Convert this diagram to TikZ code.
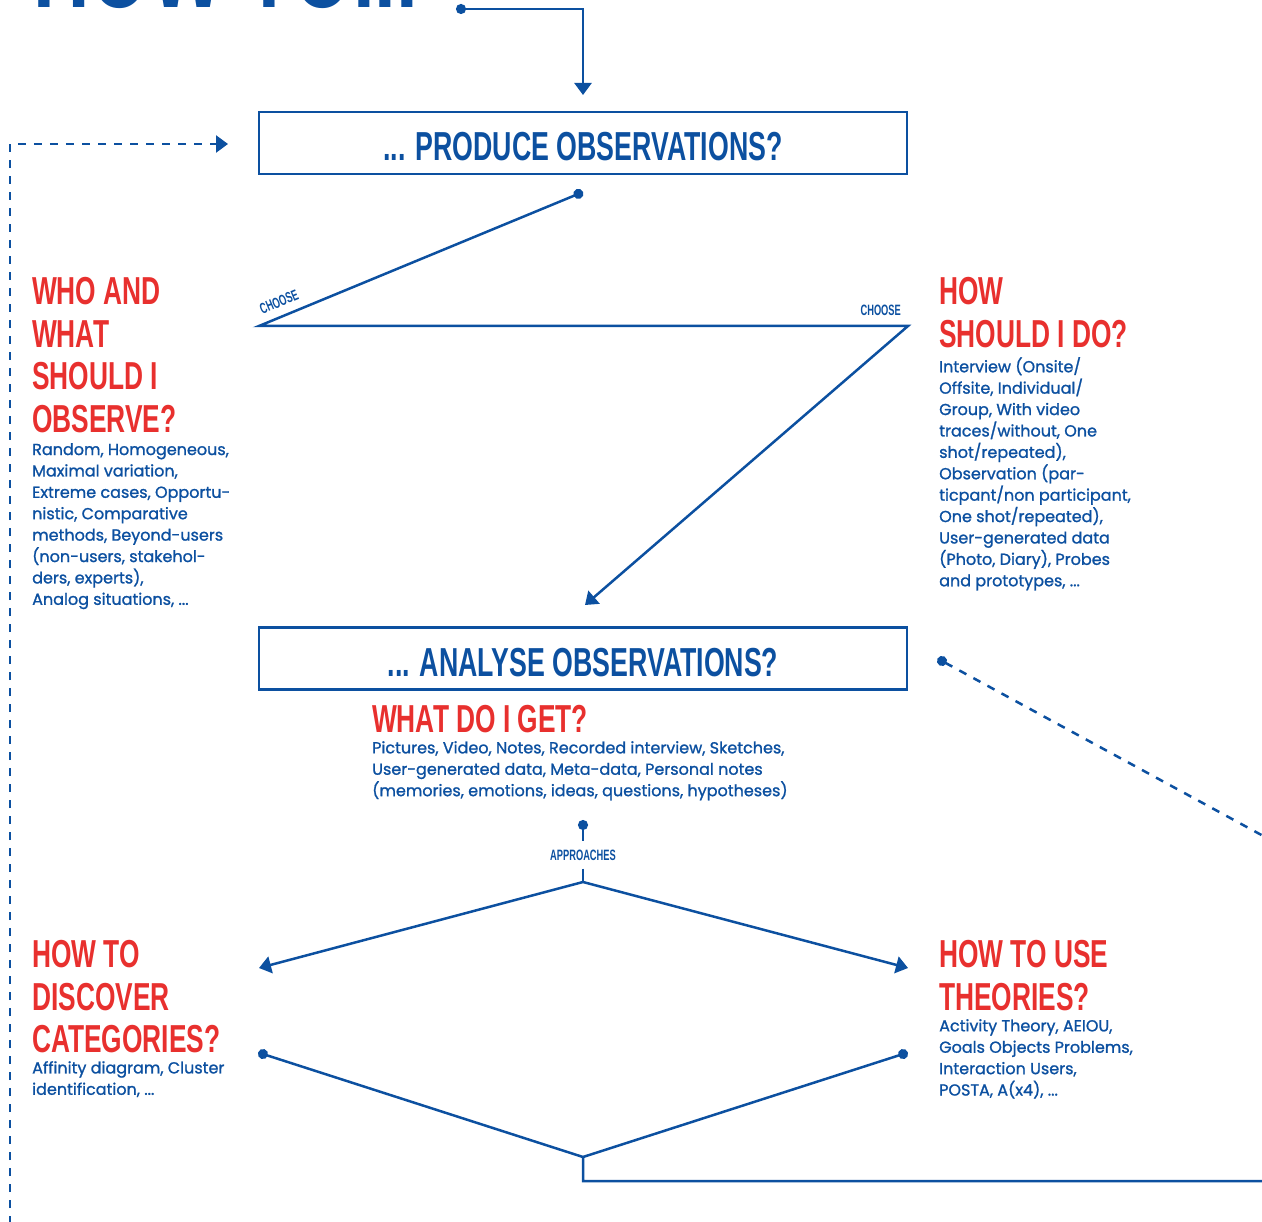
\documentclass[tikz,border=0pt]{standalone}
\usepackage{fontspec}
\setmainfont{Poppins}[FakeBold=1.2]
\newfontfamily\headfont{Liberation Sans}
\usepackage{xcolor}
\usepackage{tikz}
\usetikzlibrary{arrows.meta, positioning}

\definecolor{obsblue}{RGB}{12,80,160}
\definecolor{obsred}{RGB}{232,48,46}

\tikzset{
  >={Triangle[width=17pt,length=12pt]},
  conn/.style={draw=obsblue, line width=2.5pt},
  dashconn/.style={conn, dash pattern=on 8pt off 8pt},
  obsbox/.style={draw=obsblue, line width=2.5pt, minimum width=648pt, minimum height=62pt, inner sep=0pt, text height=35pt, text depth=0pt, text=obsblue, font=\headfont\bfseries\fontsize{40.5}{40.5}\selectfont},
  redhead/.style={anchor=north west, inner sep=0pt, align=left, text=obsred, xscale=0.675, font=\headfont\bfseries\fontsize{39}{42.7}\selectfont},
  bodytext/.style={anchor=north west, inner sep=0pt, align=left, text=obsblue, font=\fontsize{16}{21.4}\selectfont},
  smalllab/.style={inner sep=0pt, text=obsblue, xscale=0.62, font=\headfont\bfseries\fontsize{15}{15}\selectfont}
}

\begin{document}
\begin{tikzpicture}[x=1pt, y=-1pt]
          \useasboundingbox (0,0) rectangle (1262,1222);
          \clip (0,0) rectangle (1262,1222);

          \node[anchor=base west, inner sep=0pt, text=obsblue, xscale=0.68, font=\headfont\bfseries\fontsize{115}{115}\selectfont] (title) at (33,8) {HOW TO...};

          \node[obsbox] (produceBox) at (583,143) {\scalebox{0.66}[1]{... PRODUCE OBSERVATIONS?}};
          \node[obsbox] (analyseBox) at (583,658.5) {\scalebox{0.66}[1]{... ANALYSE OBSERVATIONS?}};

          \node[redhead] (whoHead) at (32,277) {WHO AND\\WHAT\\SHOULD I\\OBSERVE?};
          \node[bodytext] (whoBody) at (32,443) {Random, Homogeneous,\\Maximal variation,\\Extreme cases, Opportu-\\nistic, Comparative\\methods, Beyond-users\\(non-users, stakehol-\\ders, experts),\\Analog situations, ...};

          \node[redhead] (howHead) at (939,277) {HOW\\SHOULD I DO?};
          \node[bodytext] (howBody) at (939,357) {Interview (Onsite/\\Offsite, Individual/\\Group, With video\\traces/without, One\\shot/repeated),\\Observation (par-\\ticpant/non participant,\\One shot/repeated),\\User-generated data\\(Photo, Diary), Probes\\and prototypes, ...};

          \node[redhead] (getHead) at (372,705) {WHAT DO I GET?};
          \node[bodytext] (getBody) at (372,741) {Pictures, Video, Notes, Recorded interview, Sketches,\\User-generated data, Meta-data, Personal notes\\(memories, emotions, ideas, questions, hypotheses)};

          \node[redhead] (discHead) at (32,940) {HOW TO\\DISCOVER\\CATEGORIES?};
          \node[bodytext] (discBody) at (32,1061) {Affinity diagram, Cluster\\identification, ...};

          \node[redhead] (theoHead) at (939,940) {HOW TO USE\\THEORIES?};
          \node[bodytext] (theoBody) at (939,1019) {Activity Theory, AEIOU,\\Goals Objects Problems,\\Interaction Users,\\POSTA, A(x4), ...};

          \node[rotate=22.5, smalllab] (chooseLeft) at (279,302) {CHOOSE};
          \node[smalllab, anchor=base east] (chooseRight) at (901,316) {CHOOSE};
          \node[smalllab, inner ysep=8pt] (approaches) at (583,855) {APPROACHES};

          \coordinate (titleDot) at (456,9);
          \coordinate (produceIn) at (583,95);
          \coordinate (loopStart) at (10,1240);
          \coordinate (loopEnd) at (228,144);
          \coordinate (chooseDot) at (583,192);
          \coordinate (leftCorner) at (259,326);
          \coordinate (rightCorner) at (908,326);
          \coordinate (analyseIn) at (585,605);
          \coordinate (analyseDot) at (937.6,658.6);
          \coordinate (analyseOut) at (1300,856);
          \coordinate (apprDot) at (583,820);
          \coordinate (apprFork) at (583,882);
          \coordinate (discIn) at (259,968);
          \coordinate (theoIn) at (908,968);
          \coordinate (discDot) at (258.2,1052.5);
          \coordinate (theoDot) at (907.8,1052.5);
          \coordinate (merge) at (583,1157);
          \coordinate (mergeOut) at (1300,1181);

          \draw[conn, {Circle[length=10pt]}->] (titleDot) -| (produceIn);
          \draw[dashconn, ->] (loopStart) |- (loopEnd);
          \draw[conn, {Circle[length=10pt]}->] (chooseDot) -- (leftCorner) -- (rightCorner) -- (analyseIn);
          \draw[dashconn, {Circle[length=10pt]}-] (analyseDot) -- (analyseOut);
          \draw[conn, {Circle[length=10pt]}-] (apprDot) -- (approaches.north);
          \draw[conn] (approaches.south) -- (apprFork);
          \draw[conn, ->] (apprFork) -- (discIn);
          \draw[conn, ->] (apprFork) -- (theoIn);
          \draw[conn, {Circle[length=10pt]}-] (discDot) -- (merge) |- (mergeOut);
          \draw[conn, {Circle[length=10pt]}-] (theoDot) -- (merge);
        \end{tikzpicture}
\end{document}
